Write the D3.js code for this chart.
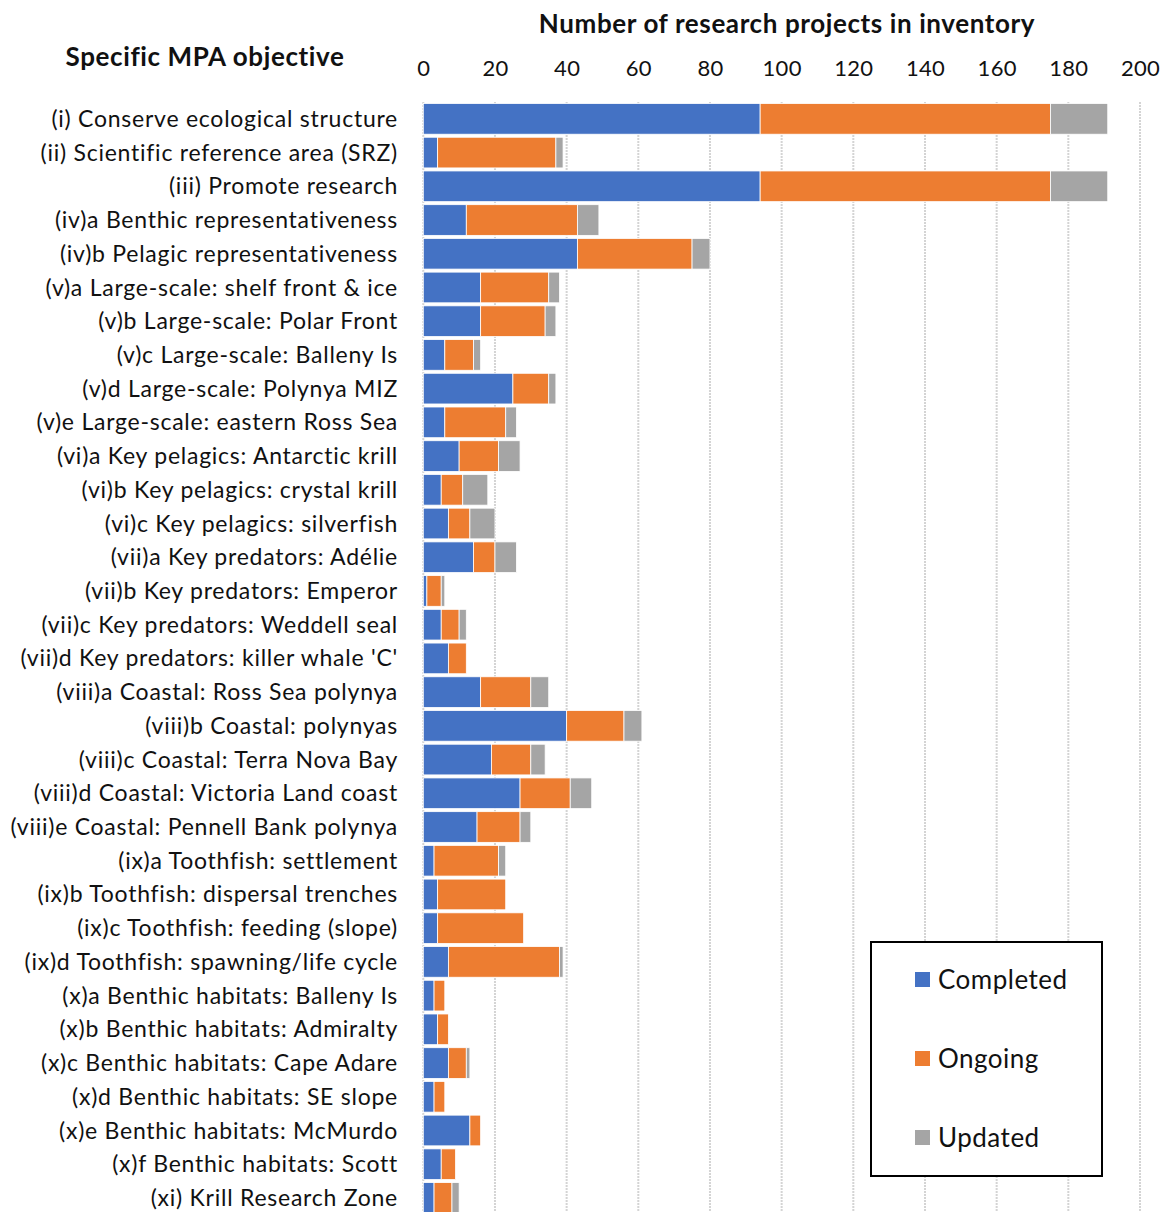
<!DOCTYPE html>
<html>
    <head>
        <meta charset="utf-8">
        <script src="https://d3js.org/d3.v7.min.js"></script>
        <style>
            body { margin: 0; background: #fff; }
            svg text { font-family: Lato, "Open Sans", sans-serif; fill: #111; }
        </style>
    </head>
    <body>
        <script>
            var categories = [
                '(i) Conserve ecological structure',
                '(ii) Scientific reference area (SRZ)',
                '(iii) Promote research',
                '(iv)a Benthic representativeness',
                '(iv)b Pelagic representativeness',
                '(v)a Large-scale: shelf front & ice',
                '(v)b Large-scale: Polar Front',
                '(v)c Large-scale: Balleny Is',
                '(v)d Large-scale: Polynya MIZ',
                '(v)e Large-scale: eastern Ross Sea',
                '(vi)a Key pelagics: Antarctic krill',
                '(vi)b Key pelagics: crystal krill',
                '(vi)c Key pelagics: silverfish',
                '(vii)a Key predators: Adélie',
                '(vii)b Key predators: Emperor',
                '(vii)c Key predators: Weddell seal',
                "(vii)d Key predators: killer whale 'C'",
                '(viii)a Coastal: Ross Sea polynya',
                '(viii)b Coastal: polynyas',
                '(viii)c Coastal: Terra Nova Bay',
                '(viii)d Coastal: Victoria Land coast',
                '(viii)e Coastal: Pennell Bank polynya',
                '(ix)a Toothfish: settlement',
                '(ix)b Toothfish: dispersal trenches',
                '(ix)c Toothfish: feeding (slope)',
                '(ix)d Toothfish: spawning/life cycle',
                '(x)a Benthic habitats: Balleny Is',
                '(x)b Benthic habitats: Admiralty',
                '(x)c Benthic habitats: Cape Adare',
                '(x)d Benthic habitats: SE slope',
                '(x)e Benthic habitats: McMurdo',
                '(x)f Benthic habitats: Scott',
                '(xi) Krill Research Zone'
            ];

            var completed = [94, 4, 94, 12, 43, 16, 16, 6, 25, 6, 10, 5, 7, 14, 1, 5, 7, 16, 40, 19, 27, 15, 3, 4, 4, 7, 3, 4, 7, 3, 13, 5, 3];
            var ongoing   = [81, 33, 81, 31, 32, 19, 18, 8, 10, 17, 11, 6, 6, 6, 4, 5, 5, 14, 16, 11, 14, 12, 18, 19, 24, 31, 3, 3, 5, 3, 3, 4, 5];
            var updated   = [16, 2, 16, 6, 5, 3, 3, 2, 2, 3, 6, 7, 7, 6, 1, 2, 0, 5, 5, 4, 6, 3, 2, 0, 0, 1, 0, 0, 1, 0, 0, 0, 2];

            var seriesNames = ['Completed', 'Ongoing', 'Updated'];
            var xTicks = [0, 20, 40, 60, 80, 100, 120, 140, 160, 180, 200];

            var width = 1170, height = 1212;

            var rows = categories.map(function(c, i) {
                return { name: c, Completed: completed[i], Ongoing: ongoing[i], Updated: updated[i] };
            });

            var stack = d3.stack().keys(seriesNames)(rows);

            var x = d3.scaleLinear().domain([0, 200]).range([423.3, 1140]);
            var y = d3.scaleBand().domain(categories).range([102, 1214.8]).paddingInner(0.09).paddingOuter(0.045);
            var color = d3.scaleOrdinal().domain(seriesNames).range(['#4472c4', '#ed7d31', '#a5a5a5']);

            var svg = d3.select('body')
                        .append('svg')
                        .attr('width', width)
                        .attr('height', height);

            // grid
            svg.append('g')
                .selectAll('line')
                .data(xTicks)
                .enter().append('line')
                    .attr('x1', function(d) { return x(d); })
                    .attr('x2', function(d) { return x(d); })
                    .attr('y1', 102)
                    .attr('y2', height)
                    .attr('stroke', '#d4d4d4')
                    .attr('stroke-width', 2)
                    .attr('stroke-dasharray', '2,1');

            // bars
            svg.append('g')
                .selectAll('g')
                .data(stack)
                .enter().append('g')
                    .attr('fill', function(d) { return color(d.key); })
                .selectAll('rect')
                .data(function(d) { return d; })
                .enter().append('rect')
                    .attr('x', function(d) { return x(d[0]); })
                    .attr('y', function(d) { return y(d.data.name); })
                    .attr('width', function(d) { return x(d[1]) - x(d[0]); })
                    .attr('height', y.bandwidth())
                    .attr('stroke', '#fff')
                    .attr('stroke-width', 0.8);

            // top axis
            var axis = svg.append('g')
                .attr('transform', 'translate(0,76)')
                .call(d3.axisTop(x).tickValues(xTicks).tickSize(0).tickPadding(0));
            axis.select('.domain').remove();
            axis.selectAll('text')
                .style('font-family', 'Lato, sans-serif')
                .style('font-size', '22px')
                .style('letter-spacing', '0.3px')
                .attr('fill', '#111');

            // category labels
            svg.append('g')
                .selectAll('text')
                .data(categories)
                .enter().append('text')
                    .attr('x', 398)
                    .attr('y', function(d) { return y(d) + y.bandwidth() / 2; })
                    .attr('dy', '0.35em')
                    .attr('text-anchor', 'end')
                    .style('font-size', '23px')
                    .style('letter-spacing', '0.75px')
                    .text(function(d) { return d; });

            svg.append('text')
                .attr('x', 787)
                .attr('y', 33)
                .attr('text-anchor', 'middle')
                .style('font-size', '26px')
                .style('font-weight', 'bold')
                .style('letter-spacing', '0.6px')
                .text('Number of research projects in inventory');

            svg.append('text')
                .attr('x', 205)
                .attr('y', 66)
                .attr('text-anchor', 'middle')
                .style('font-size', '26px')
                .style('font-weight', 'bold')
                .style('letter-spacing', '0.6px')
                .text('Specific MPA objective');

            // legend
            var legend = svg.append('g');
            legend.append('rect')
                .attr('x', 871)
                .attr('y', 942)
                .attr('width', 231)
                .attr('height', 234)
                .attr('fill', '#fff')
                .attr('stroke', '#000')
                .attr('stroke-width', 2);

            var items = legend.selectAll('g.item')
                .data(seriesNames)
                .enter().append('g')
                    .attr('class', 'item')
                    .attr('transform', function(d, i) { return 'translate(915,' + (980 + i * 79) + ')'; });
            items.append('rect')
                .attr('x', 0)
                .attr('y', -8)
                .attr('width', 15)
                .attr('height', 15)
                .attr('fill', function(d) { return color(d); });
            items.append('text')
                .attr('x', 23)
                .attr('y', 0)
                .attr('dy', '0.35em')
                .style('font-size', '26px')
                .style('letter-spacing', '0.5px')
                .text(function(d) { return d; });
        </script>
    </body>
</html>
